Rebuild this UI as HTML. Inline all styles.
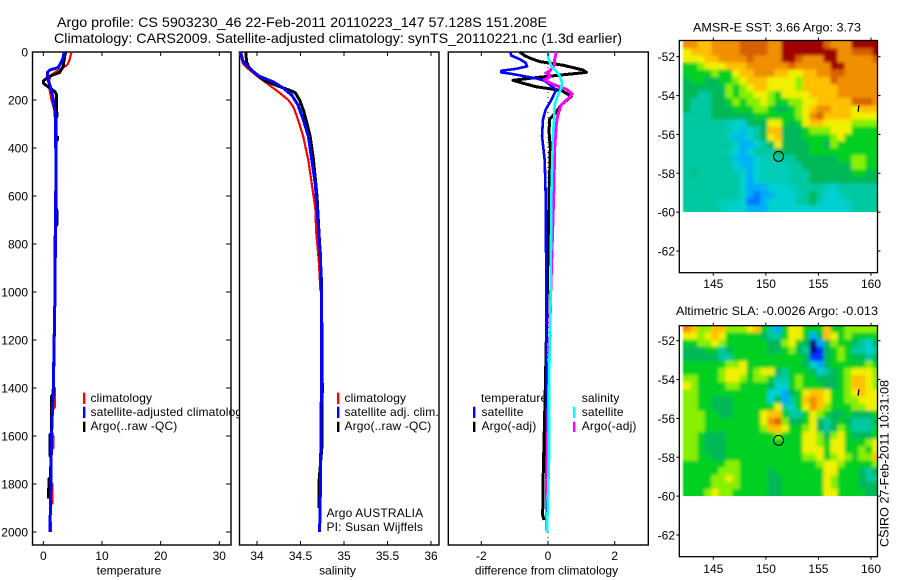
<!DOCTYPE html>
<html lang="en">
<head>
<meta charset="utf-8">
<title>Argo profile CS 5903230_46</title>
<style>
html,body{margin:0;padding:0;background:#fff;width:900px;height:580px;overflow:hidden}
svg{display:block}
text{font-family:"Liberation Sans",sans-serif;font-size:12px;fill:#000}
.leg{letter-spacing:.15px}
.title{font-size:14px}
.frame{fill:#fff;stroke:#000;stroke-width:1.4}
</style>
</head>
<body>
<svg id="root" width="900" height="580" viewBox="0 0 900 580" xmlns="http://www.w3.org/2000/svg">
  <defs>
    <filter id="mapBlur" x="-5%" y="-5%" width="110%" height="110%"><feGaussianBlur stdDeviation="1.7"/></filter>
  </defs>
  <text class="title" x="57" y="27" textLength="490" lengthAdjust="spacingAndGlyphs">Argo profile: CS 5903230_46 22-Feb-2011 20110223_147 57.128S 151.208E</text>
  <text class="title" x="54" y="43" textLength="568" lengthAdjust="spacingAndGlyphs">Climatology: CARS2009. Satellite-adjusted climatology: synTS_20110221.nc (1.3d earlier)</text>

  <rect class="frame" x="32.5" y="52" width="198.5" height="493"/>
  <g id="temp-layer"></g>
  <g>
    <rect x="83" y="392.7" width="2.4" height="11.3" fill="#f00"/>
    <rect x="83" y="406.7" width="2.4" height="11.3" fill="#00f"/>
    <rect x="83" y="421.7" width="2.4" height="10.3" fill="#000"/>
    <text class="leg" x="90.5" y="402">climatology</text>
    <text class="leg" x="90.5" y="416">satellite-adjusted climatology</text>
    <text class="leg" x="90.5" y="430">Argo(..raw -QC)</text>
  </g>

  <rect class="frame" x="239.5" y="52" width="199.5" height="493"/>
  <g id="sal-layer"></g>
  <g>
    <rect x="337" y="392.7" width="2.4" height="11.3" fill="#f00"/>
    <rect x="337" y="406.7" width="2.4" height="11.3" fill="#00f"/>
    <rect x="337" y="421.7" width="2.4" height="10.3" fill="#000"/>
    <text class="leg" x="344.5" y="402">climatology</text>
    <text class="leg" x="344.5" y="416">satellite adj. clim.</text>
    <text class="leg" x="344.5" y="430">Argo(..raw -QC)</text>
    <text class="leg" x="326.5" y="517">Argo AUSTRALIA</text>
    <text class="leg" x="326.5" y="531">PI: Susan Wijffels</text>
  </g>

  <rect class="frame" x="448.3" y="52" width="200" height="493"/>
  <g id="diff-layer"></g>
  <g>
    <text class="leg" x="481" y="402">temperature</text>
    <rect x="473" y="406.7" width="2.4" height="11.3" fill="#00f"/>
    <rect x="473" y="421.7" width="2.4" height="10.3" fill="#000"/>
    <text class="leg" x="481.5" y="416">satellite</text>
    <text class="leg" x="481.5" y="430">Argo(-adj)</text>
    <text class="leg" x="581.7" y="402">salinity</text>
    <rect x="573" y="406.7" width="2.4" height="11.3" fill="#0ff"/>
    <rect x="573" y="421.7" width="2.4" height="10.3" fill="#f0f"/>
    <text class="leg" x="581.7" y="416">satellite</text>
    <text class="leg" x="581.7" y="430">Argo(-adj)</text>
  </g>

  <text x="693" y="31.5" textLength="168" lengthAdjust="spacingAndGlyphs">AMSR-E SST: 3.66 Argo: 3.73</text>
  <g id="sst-layer"></g>
  <text x="676" y="315" textLength="202" lengthAdjust="spacingAndGlyphs">Altimetric SLA: -0.0026 Argo: -0.013</text>
  <g id="sla-layer"></g>
  <text transform="translate(888.5,547) rotate(-90)" textLength="167" lengthAdjust="spacingAndGlyphs">CSIRO 27-Feb-2011 10:31:08</text>
</svg>

<script>
// ---- axis tick data ----
const depthTicks = [0,200,400,600,800,1000,1200,1400,1600,1800,2000];
const tempTicks = [0,10,20,30];
const salTicks = [34,34.5,35,35.5,36];
const diffTicks = [-2,0,2];
const lonTicks = [145,150,155,160];
const latTicks = [-52,-54,-56,-58,-60,-62];

// ---- temperature profiles ----
const tempClimDepth = [0,30,50,60,80,100,150,200,250,300,500,1000,1390,1400,1480,1490,1590,1600,1650,1660,1790,1800,1880,1890,2000];
const tempClimValue = [4.8,4.5,4.2,3.7,2.3,1.1,1.0,1.4,2.0,2.1,2.15,2.0,1.7,1.95,1.95,1.6,1.45,1.7,1.7,1.35,1.3,1.55,1.55,1.2,1.3];
const tempSatDepth = [0,30,50,65,75,85,100,120,150,200,250,300,500,1000,1400,1600,1800,2000];
const tempSatValue = [3.56,3.3,2.9,2.5,1.1,0.7,0.7,0.85,1.3,1.7,2.0,2.1,2.15,2.0,1.7,1.4,1.3,1.13];
const tempArgoDepth = [0,40,60,85,95,105,120,130,150,165,180,270,275,350,355,365,370,650,660,720,730,1000,1425,1435,1560,1590,1595,1680,1690,1770,1780,1860];
const tempArgoValue = [3.8,3.5,3.4,2.8,1.7,0.85,0,0,1.1,2,2.26,2.3,2.15,2.15,2.45,2.45,2.15,2.15,2.3,2.3,2.05,2.0,1.7,1.4,1.4,1.45,1.1,1.1,1.3,1.25,0.95,0.9];

// ---- salinity profiles ----
const salClimDepth = [0,50,70,100,140,170,200,230,280,350,450,550,650,750,870,1000];
const salClimValue = [33.80,33.84,33.90,34.0,34.15,34.26,34.36,34.42,34.47,34.53,34.59,34.63,34.67,34.68,34.71,34.73];
const salSatDepth = [0,40,70,100,125,150,180,220,280,350,450,550,700,850,1000,1400,1600,1800,2000];
const salSatValue = [33.81,33.84,33.92,34.02,34.19,34.30,34.40,34.47,34.53,34.59,34.63,34.67,34.70,34.73,34.74,34.74,34.735,34.73,34.72];
const salArgoDepth = [0,40,60,90,120,140,160,170,200,250,350,450,600,800,950,1400,1650,1780,1900];
const salArgoValue = [33.87,33.88,33.90,33.98,34.09,34.23,34.38,34.44,34.49,34.54,34.61,34.65,34.69,34.72,34.74,34.75,34.745,34.715,34.71];

// ---- differences from climatology ----
const diffTempSatDepth = [0,15,30,45,60,70,78,85,92,100,110,120,158,170,200,240,280,350,450,600,1000,1400,2000];
const diffTempSatValue = [-1.13,-1.1,-0.85,-0.67,-0.63,-0.95,-1.4,-1.4,-1.05,-0.75,-0.35,-0.1,0.25,0.2,0.1,-0.07,-0.15,-0.18,-0.1,-0.07,-0.05,-0.05,-0.04];
const diffTempArgoDepth = [0,15,25,40,55,75,85,95,105,118,130,145,160,185,220,250,280,330,400,500,600,1000,1400,1800,1930,1950];
const diffTempArgoValue = [-0.85,-0.7,-0.55,-0.25,0.45,1.05,1.15,0.45,-0.25,-1.05,-0.75,-0.35,0.4,0.7,0.4,0.25,0.05,0.03,0.07,0.05,0.03,-0.02,-0.08,-0.15,-0.16,-0.12];
const diffSalArgoDepth = [0,30,50,80,88,95,105,115,125,140,155,175,195,220,260,300,400,600,1000,1400,1870];
const diffSalArgoValue = [0.25,0.2,0.2,0.05,-0.07,0.05,0.05,-0.1,0,0.25,0.55,0.73,0.6,0.4,0.3,0.25,0.2,0.17,0.08,0.02,-0.05];
const diffSalSatDepth = [0,20,40,60,80,100,130,150,180,220,280,350,450,600,1000,1400,1700,2000];
const diffSalSatValue = [0.03,0,0.05,0.1,0.25,0.35,0.43,0.4,0.3,0.2,0.18,0.15,0.13,0.1,0.08,0.03,0.03,-0.03];

// ---- map colour levels, low to high ----
const levelColors = ['#000080','#0030ff','#00a8ff','#00d0d0','#00c8a0','#00b858','#00d020','#88f000','#f0f000','#ffc000','#f09000','#d86000','#a00000'];

// ---- SST map, rows north to south ----
const sstRows = [
[10,10,9,9,10,10,10,10,11,11,11,11,10,10,12,12,12,12,12,12,11,10,10,10,12,12,12,12],
[8,9,9,9,10,10,10,10,11,11,11,11,10,10,12,12,12,12,12,12,12,12,10,10,11,11,11,12],
[8,8,8,9,9,10,10,10,10,11,10,10,10,10,12,12,11,10,10,10,12,12,10,10,10,10,10,11],
[6,6,7,8,8,8,9,9,9,10,10,10,10,10,10,11,10,10,10,10,10,12,12,10,10,10,10,10],
[6,6,6,6,7,6,6,8,9,9,10,10,10,9,9,8,8,9,9,10,10,11,11,10,10,10,10,10],
[5,6,6,5,5,6,6,7,8,9,9,9,8,8,8,8,7,9,9,9,9,11,10,10,10,10,10,10],
[5,5,5,5,5,5,7,6,7,8,9,9,8,8,8,8,7,9,9,9,9,9,10,10,10,10,10,10],
[5,5,4,4,5,5,7,6,7,7,8,8,7,6,8,8,8,8,9,9,9,9,10,10,10,10,10,10],
[5,4,4,4,5,5,6,7,6,7,7,8,7,6,6,7,7,8,8,9,9,9,9,9,11,11,11,10],
[5,4,4,4,5,5,5,6,6,6,7,7,6,5,5,6,7,8,9,10,10,9,9,9,8,9,9,9],
[4,4,4,4,5,5,5,5,5,5,6,6,6,6,6,6,7,8,10,11,9,9,9,9,8,8,8,8],
[4,4,4,4,4,4,3.5,3,3,5,5,5,8,8,6,5,6,8,9,9,8,8,8,8,7,7,7,7],
[4,4,4,4,4,4,3.5,3,2.5,3,4,5,9,9,5,5,5,6,7,7,7,8,8,8,6,6,6,6],
[4,4,4,4,4,4,3.5,2.5,2.5,3,4,5,8,9,5,5,5,6,6,6,6,7,8,6,6,6,6,6],
[4,4,4,4,4,4,4,3,2.2,2.2,3,4,5,8,5,5,5,5,6,6,5,7,6,6,6,6,6,6],
[4,4,4,4,4,4,3.5,3,2.2,3,4,4,4,5,5,5,5,5,6,6,6,6,6,6,6,6,6,6],
[4,4,4,4,4,4,4,2.5,2.2,2.2,3,3.5,3.5,4,4,4,5,5,5,5,5,5,6,6,7,7,6,6],
[4,4,4,4,4,4,4,3,2.5,2.2,3,3.5,3.5,3.5,3.5,4,4,5,5,5,5,5,5,5,7,7,6,6],
[4,4.5,4,4,4,4,4,3.5,3,2.2,3,3.5,3.5,3.5,3.5,4,4,4,5,5,5,5,5,5,6,6,5,5],
[4,4,4,4,4,4,4,4,3,2,3,3.5,3.5,3.5,3.5,4,4,4,5,5,5,5,5,5,5,5,5,5],
[4,4,4,4,4,4,4,4,3,2,2.3,2.3,3,3,3,3.5,4,4,4,4,3.5,3,4,4,4,4,4,4],
[4,4,4,4,4,4,4,4,3,2,1.6,2,2.3,3,3,3,3.5,4,5,4,3,3,3.5,4,4,4,4,4],
[4,4,4,4,4,3.5,3.5,3.5,3,1.6,1.6,2.2,3,3,3,3,4,4,5,3.5,3,3,3,3.5,4,4,4,4],
[4,4,4,4,4,3.5,3,3,3,2.2,2.2,2.2,3,3,3,3,3,3,3,3,3,3,3,3,4,4,4,4]
];

// ---- SLA map, rows north to south ----
const slaRows = [
[10,9,7,7,9,9,7,7,7,8,9,6,4,2,6,8,8,6,6,6,9,6,6,7,7,7,7,7],
[8,8,7,8,9,8,6,6,6,6,6,5,4,4,6,8,8,6,2,5,9,8,6,7,6,6,6,6],
[6,6,7,7,8,7,6,6,6,6,6,6,5,5,7,8,6,5,0,2,5,7,6,6,5,4,3,5],
[5,5,5,6,6,4,5,6,6,6,6,6,5,5,6,7,5,4,0,1,5,6,7,6,4,4,3,4],
[5,5,5,5,5,4,4,6,6,6,6,6,6,6,6,6,6,5,1,1,5,6,7,6,5,5,4,5],
[6,6,6,6,6,6,7,7,8,6,6,6,6,6,6,6,6,5,3,2,5,6,6,6,6,6,7,6],
[6,6,6,6,6,7,8,8,8,6,7,8,8,5,4,6,6,6,5,3,4,5,6,7,8,8,8,7],
[7,7,6,6,6,7,8,8,7,6,7,7,6,4,4,6,7,6,6,5,5,5,6,7,9,9,8,7],
[8,7,6,6,6,6,7,7,6,6,6,6,5,3,3,6,7,6,6,6,5,5,6,7,9,9,8,7],
[7,7,6,6,6,6,6,6,6,6,6,6,3,3,2,5,6,8,9,9,8,6,6,7,8,9,8,8],
[7,7,6,6,5,5,5,6,6,6,6,6,3,5,2,4,6,9,10,9,8,6,6,7,7,8,8,8],
[7,7,6,6,5,5,5,6,6,6,6,6,6,8,4,3,6,8,10,9,7,6,6,6,7,7,8,8],
[7,7,7,6,6,5,5,6,6,6,6,8,9,9,6,4,4,6,8,7,6,5,5,6,5,5,5,6],
[7,7,7,6,6,6,6,6,6,6,6,8,10,11,7,5,5,6,8,5,4,5,6,5,4,4,4,5],
[7,7,7,6,6,6,6,6,6,6,6,7,9,9,8,6,6,7,8,5,4,5,7,6,4,4,4,6],
[7,7,6,5,5,5,6,6,6,6,6,6,6,7,6,6,6,8,8,7,5,7,8,6,5,5,5,6],
[7,7,6,5,5,5,6,6,6,6,6,6,6,6,6,6,6,8,8,7,6,8,8,6,6,6,7,8],
[7,7,6,5,5,5,6,6,6,6,6,6,6,6,6,6,6,8,8,8,6,8,8,6,6,7,6,8],
[7,7,6,6,5,5,6,6,6,6,6,6,6,6,6,6,6,7,7,8,6,7,8,7,6,7,7,9],
[6,6,6,6,6,6,7,7,6,6,6,6,6,6,6,6,6,6,6,7,8,8,7,6,6,6,6,7],
[6,6,6,6,6,7,7,7,6,6,6,6,5,6,6,6,6,6,6,6,8,8,6,6,6,5,4,5],
[6,6,6,6,7,7,8,7,6,6,6,6,5,5,6,6,6,6,6,6,8,7,6,6,6,5,4,4],
[6,6,6,6,7,7,7,7,6,6,6,6,5,5,6,6,6,6,6,6,8,7,6,6,6,5,5,5],
[6,6,6,7,8,7,7,6,6,6,6,6,5,5,6,6,6,6,6,6,8,8,6,6,6,6,5,5]
];

// ---- float position and track ----
const floatLon = [151.208];
const floatLat = [-57.128];
const trackLon = [158.85,158.8,158.78];
const trackLat = [-54.5,-54.7,-54.83];

const NS = 'http://www.w3.org/2000/svg';
function make(tag, parent, props, name) {
  const el = document.createElementNS(NS, tag);
  for (const k in props) el.setAttribute(k, props[k]);
  
  
  parent.appendChild(el);
  return el;
}
function label(parent, x, y, str, anchor, name) {
  const t = make('text', parent, {x: x, y: y, 'text-anchor': anchor}, name);
  t.textContent = str;
  return t;
}
function linear(d0, d1, r0, r1) {
  return v => r0 + (v - d0) * (r1 - r0) / (d1 - d0);
}
function hexRgb(h) {
  return [parseInt(h.slice(1,3),16), parseInt(h.slice(3,5),16), parseInt(h.slice(5,7),16)];
}
function levelColor(level) {
  const lo = Math.max(0, Math.min(levelColors.length - 1, Math.floor(level)));
  const hi = Math.min(levelColors.length - 1, lo + 1);
  const f = level - lo;
  const a = hexRgb(levelColors[lo]), b = hexRgb(levelColors[hi]);
  return 'rgb(' + a.map((v, i) => Math.round(v + (b[i] - v) * f)).join(',') + ')';
}
const yDepth = linear(0, 2000, 52, 532);
const panels = {
  temp: {x: linear(0, 30, 43.3, 219.3), left: 32.5, right: 231},
  sal:  {x: linear(34, 36, 257, 431),   left: 239.5, right: 439},
  diff: {x: linear(-2, 2, 481.3, 614.7), left: 448.3, right: 648.3}
};
const plotTop = 52, plotBottom = 545;

function drawSeries(layer, xScale, depths, values, color, width, name) {
  const pts = depths.map((d, i) => xScale(values[i]).toFixed(1) + ',' + yDepth(d).toFixed(1)).join(' ');
  make('polyline', layer, {points: pts, fill: 'none', stroke: color, 'stroke-width': width, 'stroke-linejoin': 'round', 'shape-rendering': 'crispEdges'}, name);
}
function drawXAxis(layer, xScale, ticks, title, cx) {
  ticks.forEach(v => {
    const px = xScale(v);
    make('line', layer, {x1: px, x2: px, y1: plotTop, y2: plotTop + 4, stroke: '#000', 'stroke-width': 1}, 'x-tick-top');
    make('line', layer, {x1: px, x2: px, y1: plotBottom - 4, y2: plotBottom, stroke: '#000', 'stroke-width': 1}, 'x-tick-bottom');
    label(layer, px, 560, String(v), 'middle', 'x-tick-label');
  });
  label(layer, cx, 574.5, title, 'middle', 'x-axis-title');
}

// temperature panel
const tempLayer = document.getElementById('temp-layer');
drawSeries(tempLayer, panels.temp.x, tempClimDepth, tempClimValue, '#f00', 2.2, 'temperature-climatology-line');
drawSeries(tempLayer, panels.temp.x, tempArgoDepth, tempArgoValue, '#000', 3, 'temperature-argo-line');
drawSeries(tempLayer, panels.temp.x, tempSatDepth, tempSatValue, '#00f', 3, 'temperature-satellite-line');
drawXAxis(tempLayer, panels.temp.x, tempTicks, 'temperature', 129);
depthTicks.forEach(d => {
  const py = yDepth(d);
  make('line', tempLayer, {x1: panels.temp.left, x2: panels.temp.left + 4, y1: py, y2: py, stroke: '#000', 'stroke-width': 1}, 'depth-tick-left');
  make('line', tempLayer, {x1: panels.temp.right - 5, x2: panels.temp.right, y1: py, y2: py, stroke: '#000', 'stroke-width': 1}, 'depth-tick-right');
  label(tempLayer, 28, py + 4.5, String(d), 'end', 'depth-tick-label');
});

// salinity panel
const salLayer = document.getElementById('sal-layer');
drawSeries(salLayer, panels.sal.x, salClimDepth, salClimValue, '#f00', 2.2, 'salinity-climatology-line');
drawSeries(salLayer, panels.sal.x, salArgoDepth, salArgoValue, '#000', 3, 'salinity-argo-line');
drawSeries(salLayer, panels.sal.x, salSatDepth, salSatValue, '#00f', 3, 'salinity-satellite-line');
drawXAxis(salLayer, panels.sal.x, salTicks, 'salinity', 337.5);

// difference panel
const diffLayer = document.getElementById('diff-layer');
make('line', diffLayer, {x1: panels.diff.x(0), x2: panels.diff.x(0), y1: plotTop, y2: plotBottom, stroke: '#000', 'stroke-width': 1, 'stroke-dasharray': '1 4'}, 'zero-reference-line');
drawSeries(diffLayer, panels.diff.x, diffTempArgoDepth, diffTempArgoValue, '#000', 3, 'difference-temperature-argo-line');
drawSeries(diffLayer, panels.diff.x, diffTempSatDepth, diffTempSatValue, '#00f', 2.6, 'difference-temperature-satellite-line');
drawSeries(diffLayer, panels.diff.x, diffSalArgoDepth, diffSalArgoValue, '#f0f', 3, 'difference-salinity-argo-line');
drawSeries(diffLayer, panels.diff.x, diffSalSatDepth, diffSalSatValue, '#0ff', 2.6, 'difference-salinity-satellite-line');
drawXAxis(diffLayer, panels.diff.x, diffTicks, 'difference from climatology', 546.5);

// maps
const xLon = linear(145, 160, 713.3, 871);
const lonStart = 142.16, lonStep = 2 / 3;
const latStart = -51.2, latEnd = -60;
function drawMap(layer, rows, yLat, boxTop, boxBottom, tickLabelY, name) {
  const left = 679.3, right = 877.5;
  const latStep = (latEnd - latStart) / rows.length;
  const clip = make('clipPath', layer, {id: name + '-clip'}, name + '-data-clip');
  make('rect', clip, {x: left, y: boxTop, width: right - left, height: yLat(latEnd) - boxTop}, name + '-data-clip-area');
  const cells = make('g', layer, {id: name + '-cells'}, name + '-cells');
  rows.forEach((row, r) => {
    row.forEach((level, c) => {
      const x0 = xLon(lonStart + c * lonStep);
      const x1 = xLon(lonStart + (c + 1) * lonStep);
      const y0 = yLat(latStart + r * latStep);
      const y1 = yLat(latStart + (r + 1) * latStep);
      make('rect', cells, {x: x0.toFixed(2), y: y0.toFixed(2), width: (x1 - x0).toFixed(2), height: (y1 - y0).toFixed(2), fill: levelColor(level), 'shape-rendering': 'crispEdges'}, name + '-cell');
    });
  });
  const holder = make('g', layer, {'clip-path': 'url(#' + name + '-clip)'}, name + '-smoothed-cells');
  make('use', holder, {href: '#' + name + '-cells', filter: 'url(#mapBlur)'}, name + '-smoothed-copy');
  cells.setAttribute('clip-path', 'url(#' + name + '-clip)');
  make('rect', layer, {x: left, y: boxTop, width: right - left, height: boxBottom - boxTop, fill: 'none', stroke: '#000', 'stroke-width': 1.3}, name + '-frame');
  lonTicks.forEach(v => {
    const px = xLon(v);
    make('line', layer, {x1: px, x2: px, y1: boxTop - 3, y2: boxTop, stroke: '#000', 'stroke-width': 1}, name + '-lon-tick-top');
    make('line', layer, {x1: px, x2: px, y1: boxBottom, y2: boxBottom + 3, stroke: '#000', 'stroke-width': 1}, name + '-lon-tick-bottom');
    label(layer, px, tickLabelY, String(v), 'middle', name + '-lon-label');
  });
  latTicks.forEach(v => {
    const py = yLat(v);
    make('line', layer, {x1: left - 3, x2: left, y1: py, y2: py, stroke: '#000', 'stroke-width': 1}, name + '-lat-tick-left');
    make('line', layer, {x1: right, x2: right + 3, y1: py, y2: py, stroke: '#000', 'stroke-width': 1}, name + '-lat-tick-right');
    label(layer, 675, py + 4.5, String(v), 'end', name + '-lat-label');
  });
  const trackPts = trackLon.map((lon, i) => xLon(lon).toFixed(1) + ',' + yLat(trackLat[i]).toFixed(1)).join(' ');
  make('polyline', layer, {points: trackPts, fill: 'none', stroke: '#000', 'stroke-width': 1.3}, name + '-float-track');
  make('circle', layer, {cx: xLon(floatLon[0]), cy: yLat(floatLat[0]), r: 5, fill: 'none', stroke: '#000', 'stroke-width': 1}, name + '-float-marker');
}
drawMap(document.getElementById('sst-layer'), sstRows, linear(-52, -62, 56.7, 251), 40.5, 272.7, 288, 'sst');
drawMap(document.getElementById('sla-layer'), slaRows, linear(-52, -62, 340.7, 535), 325.7, 556.7, 573, 'sla');
</script>
</body>
</html>
